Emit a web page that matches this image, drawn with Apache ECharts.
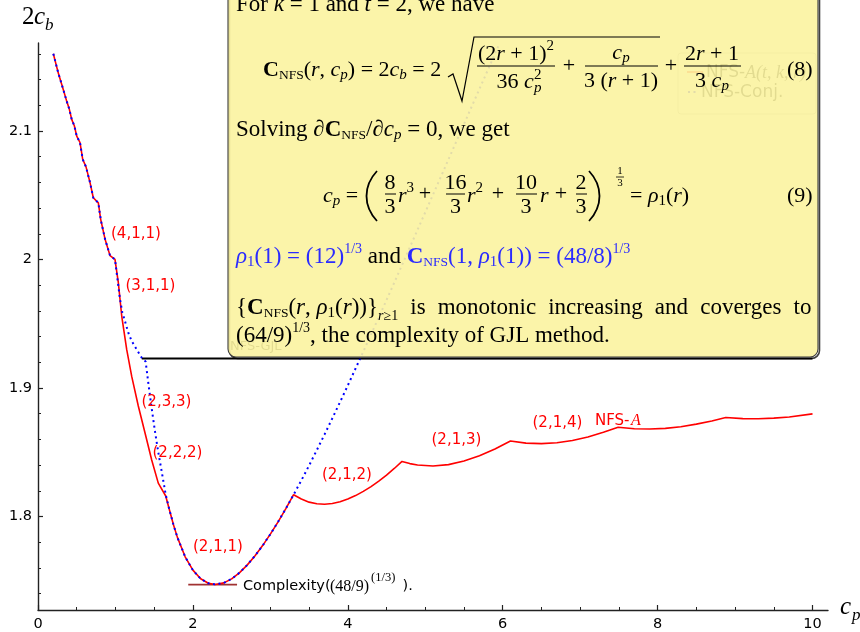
<!DOCTYPE html>
<html>
<head>
<meta charset="utf-8">
<script src="https://cdn.jsdelivr.net/npm/echarts@6/dist/echarts.min.js"></script>
<style>
  html, body { margin: 0; padding: 0; background: #fff; }
  #chart { width: 860px; height: 632px; }
</style>
</head>
<body>
<div id="chart"></div>
<script>
// ---- axis ticks ----
const xMajorTicks = [0, 2, 4, 6, 8, 10];
const xMinorTicks = [0.5, 1, 1.5, 2.5, 3, 3.5, 4.5, 5, 5.5, 6.5, 7, 7.5, 8.5, 9, 9.5];
const yMajorTicks = [1.8, 1.9, 2.0, 2.1];
const yMinorTicks = [1.74, 1.76, 1.78, 1.82, 1.84, 1.86, 1.88, 1.92, 1.94, 1.96, 1.98,
                     2.02, 2.04, 2.06, 2.08, 2.12, 2.14, 2.16];

// ---- curves: [c_p, 2c_b] ----
// small-c_p part shared by both curves
const sharedHead = [
  [0.198, 2.160], [0.262, 2.145], [0.327, 2.132], [0.371, 2.123], [0.404, 2.117],
  [0.435, 2.109], [0.469, 2.104], [0.500, 2.096], [0.542, 2.091], [0.577, 2.078],
  [0.620, 2.072], [0.671, 2.060], [0.714, 2.048], [0.779, 2.044], [0.810, 2.031],
  [0.865, 2.016], [0.930, 2.003], [0.994, 2.000]
];
// NFS-A between c_p = 1 and 1.65: (3,1,1), (2,3,3), (2,2,2)
const nfsAMid = [
  [1.003, 1.999], [1.037, 1.982], [1.081, 1.956], [1.145, 1.930], [1.210, 1.909],
  [1.295, 1.886], [1.382, 1.865], [1.468, 1.844], [1.553, 1.826], [1.649, 1.816]
];
// NFS-Conj. between c_p = 1 and 1.65
const conjMid = [
  [1.003, 1.999], [1.059, 1.969], [1.089, 1.9586], [1.123, 1.952], [1.166, 1.943],
  [1.210, 1.9365], [1.274, 1.930], [1.339, 1.9236], [1.390, 1.9205], [1.424, 1.904],
  [1.468, 1.884], [1.511, 1.866], [1.553, 1.850], [1.597, 1.835], [1.649, 1.817]
];
// (2,1,1) branch, common to both curves
const branch211 = [
  [1.70, 1.8045], [1.75, 1.7934], [1.80, 1.7838], [1.90, 1.7687], [2.00, 1.7583],
  [2.10, 1.7516], [2.20, 1.7481], [2.29, 1.7472], [2.40, 1.7484], [2.50, 1.7515],
  [2.60, 1.7562], [2.70, 1.7622], [2.80, 1.7693], [2.90, 1.7774], [3.00, 1.7863],
  [3.10, 1.7959], [3.20, 1.8061], [3.30, 1.8170]
];
// NFS-A for larger c_p: (2,1,2) ... (2,1,6)
const nfsATail = [
  [3.40, 1.8136], [3.50, 1.8112], [3.60, 1.8099], [3.70, 1.8096], [3.80, 1.8102],
  [3.90, 1.8115], [4.00, 1.8136], [4.10, 1.8163], [4.20, 1.8196], [4.30, 1.8233],
  [4.40, 1.8276], [4.50, 1.8323], [4.60, 1.8374], [4.70, 1.8429],
  [4.80, 1.8412], [4.90, 1.8401], [5.10, 1.8393], [5.30, 1.8404], [5.50, 1.8432],
  [5.70, 1.8473], [5.90, 1.8526], [6.10, 1.8588],
  [6.30, 1.8571], [6.50, 1.8567], [6.70, 1.8574], [6.90, 1.8592], [7.10, 1.8619],
  [7.30, 1.8655], [7.49, 1.8695],
  [7.70, 1.8683], [7.90, 1.8681], [8.10, 1.8686], [8.30, 1.8699], [8.50, 1.8719],
  [8.70, 1.8744], [8.88, 1.8771],
  [9.10, 1.8762], [9.30, 1.8761], [9.50, 1.8766], [9.70, 1.8775], [10.0, 1.8799]
];
// NFS-Conj. continuing on the (2,1,1) branch
const conjTail = [
  [3.40, 1.8281], [3.50, 1.8397], [3.60, 1.8517], [3.70, 1.8639], [3.80, 1.8764],
  [3.90, 1.8891], [4.00, 1.9020], [4.20, 1.9283], [4.40, 1.9550], [4.60, 1.9820],
  [4.80, 2.0093], [5.00, 2.0367], [5.20, 2.0641], [5.40, 2.0916], [5.60, 2.1190],
  [5.80, 2.1463], [5.95, 2.1668]
];
// NFS-GJL level (64/9)^(1/3) and the minimum (48/9)^(1/3)
const gjlLine = [[1.34, 1.923], [10.0, 1.923]];
const minLine = [[1.94, 1.747], [2.57, 1.747]];

const nfsA = sharedHead.concat(nfsAMid, branch211, nfsATail);
const nfsConj = sharedHead.concat(conjMid, branch211, conjTail);

// ---- text helpers for the note box ----
const SERIF = '"Liberation Serif"';
const fnt = (size, style, weight) => [style, weight, size + 'px', SERIF].filter(Boolean).join(' ');
const measure = (() => {
  const c = document.createElement('canvas').getContext('2d');
  return (font, s) => { c.font = font; return c.measureText(s).width; };
})();

function txt(x, y, s, font, color, align, z) {
  return {
    type: 'text', x: x, y: y, z: z || 101, silent: true,
    style: {
      text: s, font: font, fill: color || '#000',
      align: align || 'left', verticalAlign: 'middle',
      textAlign: align || 'left', textVerticalAlign: 'middle'
    }
  };
}
// lays pieces [text, font, dy, color, stay] left to right; returns elements and end x
function runEnd(x0, y, parts, z) {
  const els = [];
  let x = x0;
  parts.forEach(p => {
    const s = p[0], font = p[1], dy = p[2] || 0, color = p[3], stay = p[4];
    els.push(txt(x, y + dy, s, font, color, 'left', z));
    if (!stay) x += measure(font, s);
  });
  return { els: els, end: x };
}
const run = (x0, y, parts, z) => runEnd(x0, y, parts, z).els;
function runC(cx, y, parts) {
  const w = parts.reduce((a, p) => a + (p[4] ? 0 : measure(p[1], p[0])), 0);
  return run(cx - w / 2, y, parts);
}
function hline(x1, x2, y, w) {
  return { type: 'line', z: 101, silent: true, shape: { x1: x1, y1: y, x2: x2, y2: y },
           style: { stroke: '#000', lineWidth: w || 1 } };
}

// equation fonts
const R = fnt(22), I = fnt(22, 'italic'), B = fnt(22, null, 'bold');
// running-text fonts
const TR = fnt(23), TI = fnt(23, 'italic'), TB = fnt(23, null, 'bold');
const R15 = fnt(15), I15 = fnt(15, 'italic'), R14 = fnt(14), I14 = fnt(14, 'italic');
const SC = fnt(13.5);
const R11 = fnt(11);
const BLUE = '#2b2bff';

const note = [];
// drop shadow along the right and bottom edges
note.push({
  type: 'rect', z: 99, silent: true,
  shape: { x: 229.5, y: -20, width: 590, height: 378.5, r: [0, 0, 8, 8] },
  style: { fill: null, stroke: 'rgba(0,0,0,0.75)', lineWidth: 1.6 }
});
// box (semi-opaque, lets the plot show faintly through)
note.push({
  type: 'rect', z: 100, silent: true,
  shape: { x: 228, y: -20, width: 590, height: 377, r: [0, 0, 8, 8] },
  style: { fill: 'rgba(251,243,160,0.9)', stroke: '#3a3a3a', lineWidth: 1.1 }
});
// line 1
note.push(...run(236, 5, [['For ', TR], ['k', TI], [' = 1 and ', TR], ['t', TI], [' = 2, we have', TR]]));
// equation (8)
note.push(...run(263, 70, [
  ['C', B], ['NFS', SC, 5], ['(', R], ['r', I], [', ', R], ['c', I], ['p', I15, 5],
  [')', R], [' = 2', R], ['c', I], ['b', I15, 5], [' = 2', R]
]));
note.push({ type: 'polyline', z: 101, silent: true,
  shape: { points: [[448, 77], [453, 74], [462, 101], [474, 37], [660, 37]] },
  style: { stroke: '#000', lineWidth: 1.2, fill: null } });
note.push(...runC(516, 54, [['(2', R], ['r', I], [' + 1)', R], ['2', R15, -8]]));
note.push(hline(477, 555, 66));
note.push(...runC(519, 82, [['36 ', R], ['c', I], ['2', R15, -7, null, true], ['p', I15, 6]]));
note.push(txt(569, 66, '+', R, '#000', 'center'));
note.push(...runC(621, 53, [['c', I], ['p', I15, 5]]));
note.push(hline(585, 658, 66));
note.push(...runC(621, 81, [['3 (', R], ['r', I], [' + 1)', R]]));
note.push(txt(671, 66, '+', R, '#000', 'center'));
note.push(...runC(712, 54, [['2', R], ['r', I], [' + 1', R]]));
note.push(hline(684, 741, 66));
note.push(...runC(712, 81, [['3 ', R], ['c', I], ['p', I15, 5]]));
note.push(txt(787, 70, '(8)', R));
// solving line
note.push(...run(236, 130, [
  ['Solving ', TR], ['\u2202', TI], ['C', TB], ['NFS', SC, 5], ['/\u2202', TR], ['c', TI], ['p', I15, 5],
  [' = 0, we get', TR]
]));
// equation (9)
note.push(...run(323, 196, [['c', I], ['p', I15, 5], [' = ', R]]));
note.push({ type: 'bezierCurve', z: 101, silent: true,
  shape: { x1: 377, y1: 171, cpx1: 363, cpy1: 186, cpx2: 363, cpy2: 206, x2: 377, y2: 221 },
  style: { stroke: '#000', lineWidth: 1.8, fill: null } });
note.push({ type: 'bezierCurve', z: 101, silent: true,
  shape: { x1: 589, y1: 171, cpx1: 603, cpy1: 186, cpx2: 603, cpy2: 206, x2: 589, y2: 221 },
  style: { stroke: '#000', lineWidth: 1.8, fill: null } });
[[390, '8', 385, 396], [455.5, '16', 446, 465], [526, '10', 516, 537], [581, '2', 576, 587]]
  .forEach(f => {
    note.push(txt(f[0], 183, f[1], R, '#000', 'center'));
    note.push(hline(f[2], f[3], 194));
    note.push(txt(f[0], 207, '3', R, '#000', 'center'));
  });
note.push(...run(398, 196, [['r', I], ['3', R15, -8]]));
note.push(txt(425, 194, '+', R, '#000', 'center'));
note.push(...run(467, 196, [['r', I], ['2', R15, -8]]));
note.push(txt(498, 194, '+', R, '#000', 'center'));
note.push(...run(540, 196, [['r', I]]));
note.push(txt(561, 194, '+', R, '#000', 'center'));
note.push(txt(620, 171, '1', R11, '#000', 'center'));
note.push({ type: 'line', z: 101, silent: true, shape: { x1: 616, y1: 177, x2: 624, y2: 177 },
            style: { stroke: '#000', lineWidth: 0.8 } });
note.push(txt(620, 183, '3', R11, '#000', 'center'));
note.push(...run(630, 196, [['= ', R], ['\u03c1', I], ['1', R15, 5], ['(', R], ['r', I], [')', R]]));
note.push(txt(787, 196, '(9)', R));
// rho line
note.push(...run(236, 257, [
  ['\u03c1', TI, 0, BLUE], ['1', R15, 5, BLUE], ['(1) = (12)', TR, 0, BLUE], ['1/3', R14, -8, BLUE],
  [' and ', TR, 0, '#000'], ['C', TB, 0, BLUE], ['NFS', SC, 5, BLUE], ['(1, ', TR, 0, BLUE],
  ['\u03c1', TI, 0, BLUE], ['1', R15, 5, BLUE], ['(1)) = (48/8)', TR, 0, BLUE], ['1/3', R14, -8, BLUE]
]));
// monotonic line, justified to the right margin
const setPart = runEnd(236, 308, [
  ['{', TR], ['C', TB], ['NFS', SC, 5], ['(', TR], ['r', TI], [', ', TR], ['\u03c1', TI], ['1', R15, 5],
  ['(', TR], ['r', TI], ['))}', TR], ['r', I14, 8], ['\u22651', R14, 8]
]);
note.push(...setPart.els);
(function () {
  const words = ['is', 'monotonic', 'increasing', 'and', 'coverges', 'to'];
  const right = 811.5;
  const total = words.reduce((a, w) => a + measure(TR, w), 0);
  const gap = (right - setPart.end - total) / words.length;
  let x = setPart.end + gap;
  words.forEach(w => { note.push(txt(x, 308, w, TR)); x += measure(TR, w) + gap; });
})();
// last line
note.push(...run(236, 336, [['(64/9)', TR], ['1/3', R14, -8], [', the complexity of GJL method.', TR]]));

// ---- plot annotations ----
const SANS = '"DejaVu Sans"';
const lab = (x, y, s, color, size) => txt(x, y, s, (size || 15) + 'px ' + SANS, color || '#ff0000', 'left', 20);
const plotText = [
  lab(111, 234, '(4,1,1)'), lab(125.5, 286, '(3,1,1)'), lab(141.5, 402, '(2,3,3)'),
  lab(152.5, 453, '(2,2,2)'), lab(193, 547, '(2,1,1)'), lab(322, 475, '(2,1,2)'),
  lab(431.5, 440, '(2,1,3)'), lab(532.5, 423, '(2,1,4)'),
  lab(595, 421, 'NFS-'),
  txt(631, 421, 'A', fnt(16, 'italic'), '#ff0000', 'left', 20),
  lab(243, 586, 'Complexity(', '#000', 14.5),
  txt(330, 587, '(48/9)', fnt(16), '#000', 'left', 20),
  txt(371, 578, '(1/3)', fnt(12.5), '#000', 'left', 20),
  lab(398, 586, ' ).', '#000', 14.5),
  // axis names
  txt(22, 17, '2', fnt(25), '#000', 'left', 20),
  txt(34, 17, 'c', fnt(25, 'italic'), '#000', 'left', 20),
  txt(45, 26, 'b', fnt(17, 'italic'), '#000', 'left', 20),
  txt(840, 607, 'c', fnt(25, 'italic'), '#000', 'left', 20),
  txt(852, 616, 'p', fnt(17, 'italic'), '#000', 'left', 20),
  // items underneath the note box
  txt(230, 347, 'NFS-GJL', '13px ' + SANS, '#000', 'left', 50),
  { type: 'rect', z: 50, silent: true, shape: { x: 678, y: 53, width: 138, height: 61, r: 3 },
    style: { fill: null, stroke: '#bbb', lineWidth: 1 } },
  { type: 'line', z: 50, silent: true, shape: { x1: 687, y1: 72, x2: 703, y2: 72 },
    style: { stroke: '#ff0000', lineWidth: 1.6 } },
  txt(706, 73, 'NFS-', '17px ' + SANS, '#000', 'left', 50),
  txt(745, 73, 'A(t, k, r)', fnt(18, 'italic'), '#000', 'left', 50),
  { type: 'line', z: 50, silent: true, shape: { x1: 688, y1: 92, x2: 699, y2: 92 },
    style: { stroke: '#0000ff', lineWidth: 2, lineDash: [2, 3.5] } },
  txt(701, 93, 'NFS-Conj.', '17px ' + SANS, '#000', 'left', 50)
];

const axisCommon = { type: 'value', splitLine: { show: false } };
const option = {
  animation: false,
  backgroundColor: '#fff',
  grid: { left: 38, right: 32, top: 43, bottom: 21 },
  xAxis: [
    Object.assign({}, axisCommon, {
      min: 0, max: 10.2, position: 'bottom',
      axisLine: { show: true, onZero: false, lineStyle: { color: '#222', width: 1.4 } },
      axisTick: { show: true, inside: true, length: 5, customValues: xMajorTicks,
                  lineStyle: { color: '#222', width: 1.2 } },
      axisLabel: { customValues: xMajorTicks, margin: 7, color: '#000',
                   fontFamily: 'DejaVu Sans', fontSize: 14.5 }
    }),
    Object.assign({}, axisCommon, {
      min: 0, max: 10.2, position: 'bottom',
      axisLine: { show: false, onZero: false },
      axisTick: { show: true, inside: true, length: 3, customValues: xMinorTicks,
                  lineStyle: { color: '#222', width: 1 } },
      axisLabel: { show: false }
    })
  ],
  yAxis: [
    Object.assign({}, axisCommon, {
      min: 1.7273, max: 2.1684, position: 'left',
      axisLine: { show: true, onZero: false, lineStyle: { color: '#222', width: 1.4 } },
      axisTick: { show: true, inside: true, length: 5, customValues: yMajorTicks,
                  lineStyle: { color: '#222', width: 1.2 } },
      axisLabel: { customValues: yMajorTicks, margin: 6, color: '#000',
                   fontFamily: 'DejaVu Sans', fontSize: 14.5 }
    }),
    Object.assign({}, axisCommon, {
      min: 1.7273, max: 2.1684, position: 'left',
      axisLine: { show: false, onZero: false },
      axisTick: { show: true, inside: true, length: 3, customValues: yMinorTicks,
                  lineStyle: { color: '#222', width: 1 } },
      axisLabel: { show: false }
    })
  ],
  series: [
    { name: 'NFS-GJL', type: 'line', data: gjlLine, symbol: 'none', silent: true, z: 3,
      lineStyle: { color: '#000', width: 2 } },
    { name: 'Complexity', type: 'line', data: minLine, symbol: 'none', silent: true, z: 3,
      lineStyle: { color: '#a03232', width: 1.8 } },
    { name: 'NFS-A(t,k,r)', type: 'line', data: nfsA, symbol: 'none', silent: true, z: 4,
      lineStyle: { color: '#ff0000', width: 1.6 } },
    { name: 'NFS-Conj.', type: 'line', data: nfsConj, symbol: 'none', silent: true, z: 5,
      lineStyle: { color: '#0000ff', width: 2, type: [2, 3.5] } }
  ],
  graphic: { elements: plotText.concat(note) }
};

const chart = echarts.init(document.getElementById('chart'), null, { renderer: 'canvas' });
chart.setOption(option);
</script>
</body>
</html>
